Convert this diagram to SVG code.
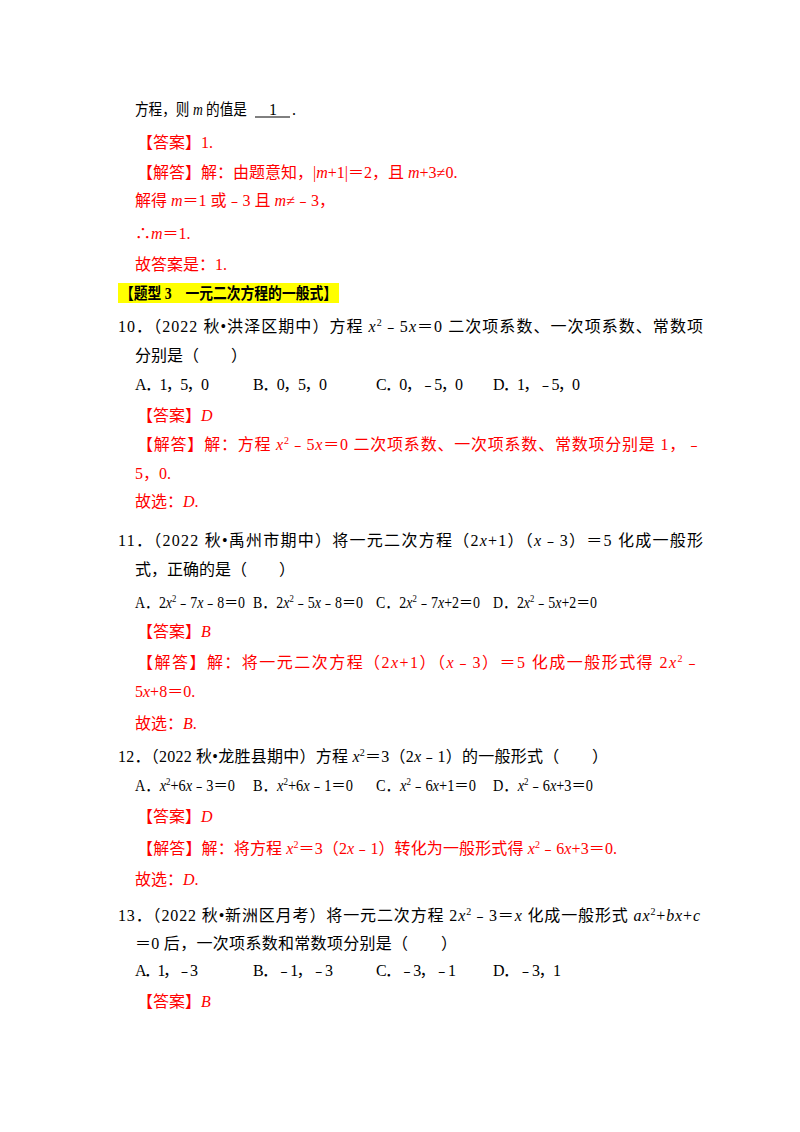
<svg xmlns="http://www.w3.org/2000/svg" width="800" height="1132" viewBox="0 0 800 1132">
<style>
text{font-family:"Liberation Serif","Noto Sans CJK SC",serif;font-size:16px;fill:#000}
.r{fill:#ff0000}
.i{font-style:italic}
.s{font-size:10px}
</style>
<rect width="800" height="1132" fill="#fff"/>
<text x="135" y="115" textLength="112" lengthAdjust="spacingAndGlyphs">方程，则 <tspan class="i">m</tspan> 的值是</text>
<text x="269" y="115">1</text><text x="292" y="115">.</text>
<line x1="255" y1="117" x2="290" y2="117" stroke="#000" stroke-width="1"/>
<text x="137" y="148" class="r">【答案】1.</text>
<text x="137" y="178" class="r">【解答】解：由题意知，|<tspan class="i">m</tspan>+1|＝2，且 <tspan class="i">m</tspan>+3≠0.</text>
<text x="135" y="206" class="r">解得 <tspan class="i">m</tspan>＝1 或﹣3 且 <tspan class="i">m</tspan>≠﹣3，</text>
<text x="135" y="239" class="r">∴<tspan class="i">m</tspan>＝1.</text>
<text x="135" y="270" class="r">故答案是：1.</text>
<rect x="118" y="283" width="221" height="20" fill="#ffff00"/>
<text x="120" y="299" font-weight="bold" textLength="217" lengthAdjust="spacingAndGlyphs">【题型 3　一元二次方程的一般式】</text>
<text x="118" y="332" textLength="585" lengthAdjust="spacing">10．（2022 秋•洪泽区期中）方程 <tspan class="i">x</tspan><tspan class="s" dy="-6">2</tspan><tspan dy="6">﹣5</tspan><tspan class="i">x</tspan>＝0 二次项系数、一次项系数、常数项</text>
<text x="135" y="361">分别是（　　）</text>
<text x="135" y="390" textLength="74">A．1，5，0</text><text x="253" y="390" textLength="74">B．0，5，0</text><text x="376" y="390" textLength="87">C．0，﹣5，0</text><text x="493" y="390" textLength="87">D．1，﹣5，0</text>
<text x="137" y="421" class="r">【答案】<tspan class="i">D</tspan></text>
<text x="137" y="450" class="r" textLength="565" lengthAdjust="spacing">【解答】解：方程 <tspan class="i">x</tspan><tspan class="s" dy="-6">2</tspan><tspan dy="6">﹣5</tspan><tspan class="i">x</tspan>＝0 二次项系数、一次项系数、常数项分别是 1，﹣</text>
<text x="135" y="479" class="r">5，0.</text>
<text x="135" y="507" class="r">故选：<tspan class="i">D</tspan>.</text>
<text x="118" y="546" textLength="585" lengthAdjust="spacing">11．（2022 秋•禹州市期中）将一元二次方程（2<tspan class="i">x</tspan>+1）（<tspan class="i">x</tspan>﹣3）＝5 化成一般形</text>
<text x="135" y="575">式，正确的是（　　）</text>
<text x="135" y="608" textLength="110" lengthAdjust="spacingAndGlyphs">A．2<tspan class="i">x</tspan><tspan class="s" dy="-6">2</tspan><tspan dy="6">﹣7</tspan><tspan class="i">x</tspan>﹣8＝0</text>
<text x="253" y="608" textLength="110" lengthAdjust="spacingAndGlyphs">B．2<tspan class="i">x</tspan><tspan class="s" dy="-6">2</tspan><tspan dy="6">﹣5</tspan><tspan class="i">x</tspan>﹣8＝0</text>
<text x="376" y="608" textLength="104" lengthAdjust="spacingAndGlyphs">C．2<tspan class="i">x</tspan><tspan class="s" dy="-6">2</tspan><tspan dy="6">﹣7</tspan><tspan class="i">x</tspan>+2＝0</text>
<text x="493" y="608" textLength="104" lengthAdjust="spacingAndGlyphs">D．2<tspan class="i">x</tspan><tspan class="s" dy="-6">2</tspan><tspan dy="6">﹣5</tspan><tspan class="i">x</tspan>+2＝0</text>
<text x="137" y="637" class="r">【答案】<tspan class="i">B</tspan></text>
<text x="137" y="668" class="r" textLength="563" lengthAdjust="spacing">【解答】解：将一元二次方程（2<tspan class="i">x</tspan>+1）（<tspan class="i">x</tspan>﹣3）＝5 化成一般形式得 2<tspan class="i">x</tspan><tspan class="s" dy="-6">2</tspan><tspan dy="6">﹣</tspan></text>
<text x="135" y="697" class="r">5<tspan class="i">x</tspan>+8＝0.</text>
<text x="135" y="729" class="r">故选：<tspan class="i">B</tspan>.</text>
<text x="118" y="762" textLength="490" lengthAdjust="spacing">12．（2022 秋•龙胜县期中）方程 <tspan class="i">x</tspan><tspan class="s" dy="-6">2</tspan><tspan dy="6">＝3（2</tspan><tspan class="i">x</tspan>﹣1）的一般形式（　　）</text>
<text x="135" y="791" textLength="100" lengthAdjust="spacingAndGlyphs">A．<tspan class="i">x</tspan><tspan class="s" dy="-6">2</tspan><tspan dy="6">+6</tspan><tspan class="i">x</tspan>﹣3＝0</text>
<text x="253" y="791" textLength="100" lengthAdjust="spacingAndGlyphs">B．<tspan class="i">x</tspan><tspan class="s" dy="-6">2</tspan><tspan dy="6">+6</tspan><tspan class="i">x</tspan>﹣1＝0</text>
<text x="376" y="791" textLength="100" lengthAdjust="spacingAndGlyphs">C．<tspan class="i">x</tspan><tspan class="s" dy="-6">2</tspan><tspan dy="6">﹣6</tspan><tspan class="i">x</tspan>+1＝0</text>
<text x="493" y="791" textLength="100" lengthAdjust="spacingAndGlyphs">D．<tspan class="i">x</tspan><tspan class="s" dy="-6">2</tspan><tspan dy="6">﹣6</tspan><tspan class="i">x</tspan>+3＝0</text>
<text x="137" y="822" class="r">【答案】<tspan class="i">D</tspan></text>
<text x="137" y="854" class="r" textLength="480" lengthAdjust="spacing">【解答】解：将方程 <tspan class="i">x</tspan><tspan class="s" dy="-6">2</tspan><tspan dy="6">＝3（2</tspan><tspan class="i">x</tspan>﹣1）转化为一般形式得 <tspan class="i">x</tspan><tspan class="s" dy="-6">2</tspan><tspan dy="6">﹣6</tspan><tspan class="i">x</tspan>+3＝0.</text>
<text x="135" y="885" class="r">故选：<tspan class="i">D</tspan>.</text>
<text x="118" y="921" textLength="582" lengthAdjust="spacing">13．（2022 秋•新洲区月考）将一元二次方程 2<tspan class="i">x</tspan><tspan class="s" dy="-6">2</tspan><tspan dy="6">﹣3＝</tspan><tspan class="i">x</tspan> 化成一般形式 <tspan class="i">ax</tspan><tspan class="s" dy="-6">2</tspan><tspan dy="6">+</tspan><tspan class="i">bx</tspan>+<tspan class="i">c</tspan></text>
<text x="135" y="949" textLength="322" lengthAdjust="spacing">＝0 后，一次项系数和常数项分别是（　　）</text>
<text x="135" y="976" textLength="63">A．1，﹣3</text><text x="253" y="976" textLength="80">B．﹣1，﹣3</text><text x="376" y="976" textLength="80">C．﹣3，﹣1</text><text x="493" y="976" textLength="68">D．﹣3，1</text>
<text x="137" y="1007" class="r">【答案】<tspan class="i">B</tspan></text>
</svg>
